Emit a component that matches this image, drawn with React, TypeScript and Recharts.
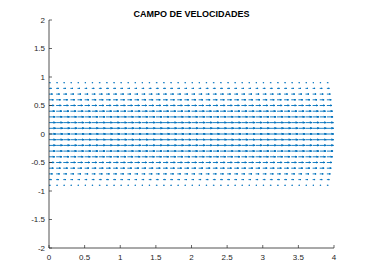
import React from 'react'
import { LineChart, Line, XAxis, YAxis } from 'recharts'

// grid of the quiver plot
const xPositions = [
  0, 0.1, 0.2, 0.3, 0.4, 0.5, 0.6, 0.7, 0.8, 0.9,
  1, 1.1, 1.2, 1.3, 1.4, 1.5, 1.6, 1.7, 1.8, 1.9,
  2, 2.1, 2.2, 2.3, 2.4, 2.5, 2.6, 2.7, 2.8, 2.9,
  3, 3.1, 3.2, 3.3, 3.4, 3.5, 3.6, 3.7, 3.8, 3.9,
]
const yLevels = [-0.9, -0.8, -0.7, -0.6, -0.5, -0.4, -0.3, -0.2, -0.1, 0, 0.1, 0.2, 0.3, 0.4, 0.5, 0.6, 0.7, 0.8, 0.9]
// horizontal velocity on each row
const rowSpeeds = [0.19, 0.36, 0.51, 0.64, 0.75, 0.84, 0.91, 0.96, 0.99, 1, 0.99, 0.96, 0.91, 0.84, 0.75, 0.64, 0.51, 0.36, 0.19]
const arrowScale = 0.095 // autoscale factor used by the plot

const xTicks = [0, 0.5, 1, 1.5, 2, 2.5, 3, 3.5, 4]
const yTicks = [-2, -1.5, -1, -0.5, 0, 0.5, 1, 1.5, 2]

const HEAD = 0.33

type Pt = { x: number; y: number | null }

const rows: Pt[][] = yLevels.map((y, i) => {
  const len = rowSpeeds[i] * arrowScale
  const pts: Pt[] = []
  xPositions.forEach((x) => {
    const tip = x + len
    const back = tip - HEAD * len
    const spread = HEAD * HEAD * len
    pts.push({ x, y })
    pts.push({ x: tip, y })
    pts.push({ x: back, y: y + spread })
    pts.push({ x: tip, y })
    pts.push({ x: back, y: y - spread })
    pts.push({ x: tip, y: null })
  })
  return pts
})

const axisColor = '#262626'
const font = '"Liberation Sans", Arial, sans-serif'

const XTick = (props: any) => {
  const { x, y, payload } = props
  const axisY = y - 6
  return (
    <g>
      <line x1={x} x2={x} y1={axisY} y2={axisY - 3} stroke={axisColor} strokeWidth={0.7} />
      <text x={x} y={y} dy="0.71em" textAnchor="middle" fontSize={8} fill={axisColor} fontFamily={font}>
        {payload.value}
      </text>
    </g>
  )
}

const YTick = (props: any) => {
  const { x, y, payload } = props
  const axisX = x + 4
  return (
    <g>
      <line x1={axisX} x2={axisX + 3} y1={y} y2={y} stroke={axisColor} strokeWidth={0.7} />
      <text x={x} y={y} dy="0.35em" textAnchor="end" fontSize={8} fill={axisColor} fontFamily={font}>
        {payload.value}
      </text>
    </g>
  )
}

export default function App() {
  return (
    <div style={{ position: 'absolute', left: 0, top: 0, width: 370, height: 278, background: '#fff' }}>
      <div
        style={{
          position: 'absolute',
          top: 9,
          left: 49,
          width: 285,
          textAlign: 'center',
          fontFamily: font,
          fontWeight: 'bold',
          fontSize: 9,
          color: '#000',
          lineHeight: '11px',
        }}
      >
        CAMPO DE VELOCIDADES
      </div>
      <LineChart width={370} height={278} margin={{ top: 20, right: 36, bottom: 0, left: 9 }}>
        <XAxis
          dataKey="x"
          type="number"
          domain={[0, 4]}
          ticks={xTicks}
          allowDataOverflow
          height={30}
          tickSize={0}
          tickMargin={6}
          tick={<XTick />}
          axisLine={{ stroke: axisColor, strokeWidth: 0.8 }}
          tickLine={false}
        />
        <YAxis
          type="number"
          domain={[-2, 2]}
          ticks={yTicks}
          allowDataOverflow
          width={40}
          tickSize={0}
          tickMargin={4}
          tick={<YTick />}
          axisLine={{ stroke: axisColor, strokeWidth: 0.8 }}
          tickLine={false}
        />
        {rows.map((data, i) => (
          <Line
            key={i}
            data={data}
            dataKey="y"
            type="linear"
            stroke="#0072BD"
            strokeWidth={0.9}
            dot={false}
            activeDot={false}
            connectNulls={false}
            isAnimationActive={false}
          />
        ))}
      </LineChart>
    </div>
  )
}
